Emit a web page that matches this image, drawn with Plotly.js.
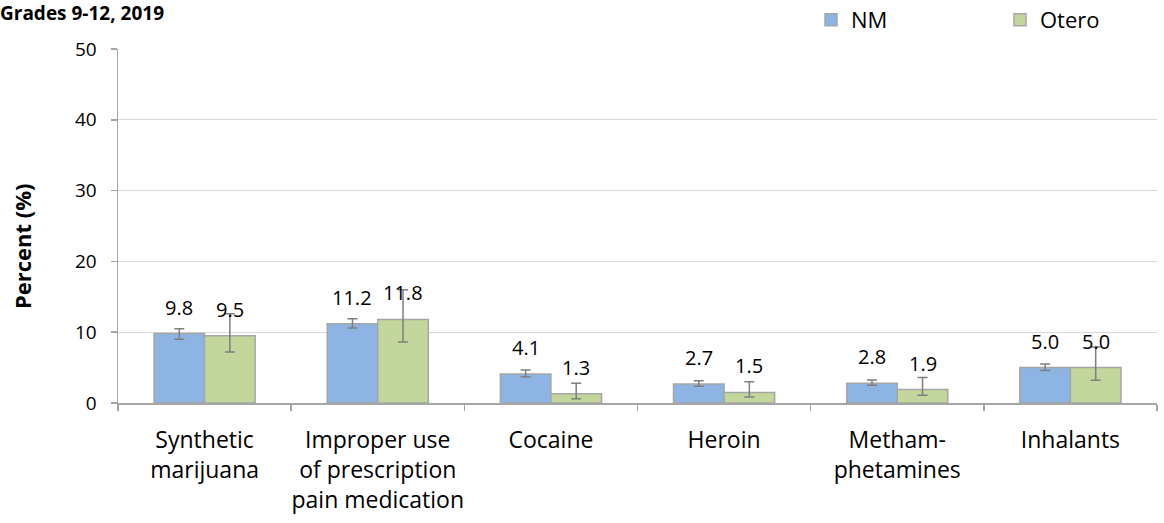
<!DOCTYPE html>
<html>
<head>
<meta charset="utf-8">
<script src="https://cdn.plot.ly/plotly-3.0.1.min.js"></script>
<style>html,body{margin:0;padding:0;background:#fff;}#chart{width:1164px;height:523px;}</style>
</head>
<body>
<div id="chart"></div>
<script>
var categories = ["Synthetic<br>marijuana", "Improper use<br>of prescription<br>pain medication", "Cocaine", "Heroin", "Metham-<br>phetamines", "Inhalants"];
var nmValues = [9.8, 11.2, 4.1, 2.7, 2.8, 5.0];
var nmLower = [9.0, 10.6, 3.7, 2.35, 2.5, 4.6];
var nmUpper = [10.5, 11.9, 4.65, 3.15, 3.25, 5.5];
var oteroValues = [9.5, 11.8, 1.3, 1.5, 1.9, 5.0];
var oteroLower = [7.2, 8.6, 0.6, 0.85, 1.1, 3.2];
var oteroUpper = [12.6, 16.0, 2.8, 3.0, 3.6, 7.9];
var yTicks = [0, 10, 20, 30, 40, 50];

var FONT = "Open Sans, sans-serif";
var bargap = 0.416;
var off = (1 - bargap) / 4;

function plus(v, u) { return v.map(function (x, i) { return +(u[i] - x).toFixed(3); }); }
function minus(v, l) { return v.map(function (x, i) { return +(x - l[i]).toFixed(3); }); }

var errStyle = {color: "#7f7f7f", thickness: 1.5, width: 5};

var traces = [
  {
    type: "bar", name: "NM", x: categories, y: nmValues,
    marker: {color: "#8EB4E3", line: {color: "#A6A6A6", width: 1.5}},
    error_y: Object.assign({type: "data", symmetric: false, array: plus(nmValues, nmUpper), arrayminus: minus(nmValues, nmLower)}, errStyle),
    hoverinfo: "skip"
  },
  {
    type: "bar", name: "Otero", x: categories, y: oteroValues,
    marker: {color: "#C3D69B", line: {color: "#A6A6A6", width: 1.5}},
    error_y: Object.assign({type: "data", symmetric: false, array: plus(oteroValues, oteroUpper), arrayminus: minus(oteroValues, oteroLower)}, errStyle),
    hoverinfo: "skip"
  }
];

var L = 118, R = 7, T = 49, B = 120, W = 1164, H = 523;
var pw = W - L - R, ph = H - T - B;

var annotations = [];
nmValues.forEach(function (v, i) {
  annotations.push({x: i - off, y: v, xref: "x", yref: "y", text: v.toFixed(1), showarrow: false,
    yanchor: "bottom", yshift: 11, font: {family: FONT, size: 20, color: "#000"}});
});
oteroValues.forEach(function (v, i) {
  annotations.push({x: i + off, y: v, xref: "x", yref: "y", text: v.toFixed(1), showarrow: false,
    yanchor: "bottom", yshift: 11, font: {family: FONT, size: 20, color: "#000"}});
});
annotations.push({x: (22 - L) / pw, xref: "paper", xanchor: "center", y: (H - B - 246) / ph, yref: "paper", yanchor: "middle",
  text: "<b>Percent (%)</b>", textangle: -90, showarrow: false, font: {family: FONT, size: 22, color: "#000"}});

var layout = {
  width: W, height: H,
  margin: {l: L, r: R, t: T, b: B, pad: 0, autoexpand: false},
  paper_bgcolor: "#fff", plot_bgcolor: "#fff",
  font: {family: FONT, color: "#000"},
  title: {text: "<b>Grades 9-12, 2019</b>", x: 0, xref: "container", xanchor: "left", y: 0.975, yref: "container", yanchor: "middle",
    font: {family: FONT, size: 19, color: "#000"}, pad: {l: 0, t: 0}},
  barmode: "group", bargap: bargap, bargroupgap: 0,
  showlegend: true,
  legend: {orientation: "h", x: (811 - L) / pw, xanchor: "left", y: 1 + (T - 20) / ph, yanchor: "middle",
    font: {family: FONT, size: 22, color: "#000"}, entrywidth: 144, entrywidthmode: "pixels", traceorder: "normal", bgcolor: "rgba(0,0,0,0)"},
  xaxis: {
    type: "category", showgrid: false, showline: true, linecolor: "#A6A6A6", linewidth: 1.5,
    ticks: "outside", tickson: "boundaries", ticklen: 6, tickcolor: "#A6A6A6", tickwidth: 1.5,
    tickangle: 0, automargin: false, ticklabelstandoff: 16,
    tickfont: {family: FONT, size: 23, color: "#000"}, fixedrange: true, zeroline: false
  },
  yaxis: {
    range: [0, 50], tickvals: yTicks, ticktext: yTicks.map(String), automargin: false,
    showgrid: true, gridcolor: "#D9D9D9", gridwidth: 1.2,
    showline: true, linecolor: "#A6A6A6", linewidth: 1.5,
    ticks: "outside", ticklen: 6, tickcolor: "#A6A6A6", tickwidth: 1.5, ticklabelstandoff: 10,
    tickfont: {family: FONT, size: 19, color: "#000"}, zeroline: false, fixedrange: true
  },
  annotations: annotations
};

Plotly.newPlot("chart", traces, layout, {displayModeBar: false, staticPlot: true});
</script>
</body>
</html>
